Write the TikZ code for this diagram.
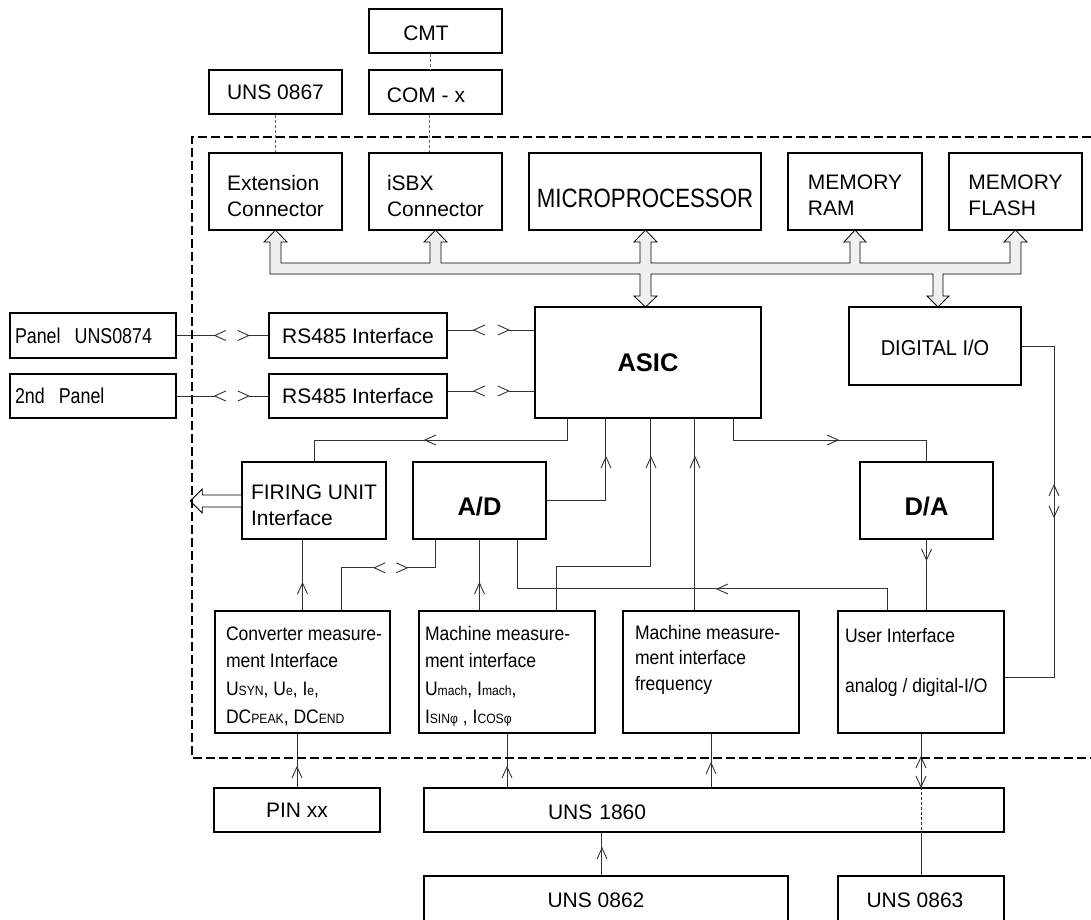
\documentclass[tikz,border=0pt]{standalone}
\usepackage{fontspec}
\setmainfont{Liberation Sans}
\newfontfamily\narrowm[FakeStretch=0.84]{Liberation Sans}
\newfontfamily\narrowp[FakeStretch=0.83]{Liberation Sans}
\newfontfamily\narrowd[FakeStretch=0.93]{Liberation Sans}
\newfontfamily\narrowb[FakeStretch=0.9]{Liberation Sans}
\usetikzlibrary{calc}
\newcommand\dropt[2]{\raisebox{-#1}[\height][\depth]{#2}}
\newcommand\tb[1]{\begin{tabular}{@{}l@{}}#1\end{tabular}}
\newcommand\sm[1]{{\fontsize{13.5}{13.5}\selectfont #1}}
\tikzset{
 box/.style={draw=black, line width=1.6pt, fill=white, inner sep=0pt, font=\fontsize{21}{26}\selectfont},
 conn/.style={draw=black!80, line width=0.9pt},
 dotc/.style={draw=black!60, line width=0.7pt, dash pattern=on 3pt off 2pt},
 chev/.pic={\draw[conn] (-11,5) -- (0,0) -- (-11,-5);},
 busfill/.style={draw=black, line width=0.8pt, fill=black!6},
 border/.style={draw=black, line width=2.8pt, dash pattern=on 9pt off 4pt},
}
\begin{document}
\begin{tikzpicture}[x=1pt,y=-1pt]
\useasboundingbox (0,0) rectangle (1091,919);
\clip (0,0) rectangle (1091,919);

% bus
\draw[busfill] (270,274) -- (270,242) -- (264,242) -- (275.5,230) -- (287,242) -- (281,242) -- (281,263)
 -- (430,263) -- (430,242) -- (424,242) -- (435.5,230) -- (447,242) -- (441,242) -- (441,263)
 -- (640,263) -- (640,242) -- (634,242) -- (645.5,230) -- (657,242) -- (651,242) -- (651,263)
 -- (850,263) -- (850,242) -- (844,242) -- (855,230) -- (866,242) -- (860,242) -- (860,263)
 -- (1010,263) -- (1010,242) -- (1004,242) -- (1015.5,230) -- (1027,242) -- (1021,242) -- (1021,274)
 -- (943,274) -- (943,296) -- (949,296) -- (938,307) -- (927,296) -- (933,296) -- (933,274)
 -- (651,274) -- (651,296) -- (657,296) -- (645.5,307) -- (634,296) -- (640,296) -- (640,274) -- cycle;

% top boxes
\node[box, minimum width=133, minimum height=44] (cmt) at (435.5,31) {\dropt{2pt}{\hspace*{-19pt}CMT}};
\node[box, minimum width=133, minimum height=44] (u0867) at (275.5,92) {UNS 0867};
\node[box, minimum width=133, minimum height=44] (com) at (435.5,92) {\dropt{3pt}{\hspace*{-19pt}COM - x}};
\node[box, minimum width=133, minimum height=77] (ext) at (275.5,191.5) {\dropt{6.5pt}{\tb{Extension\\Connector}}};
\node[box, minimum width=133, minimum height=77] (isbx) at (435.5,191.5) {\dropt{6.5pt}{\tb{iSBX\\Connector}}};
\node[box, minimum width=232, minimum height=77] (micro) at (645,191.5) {\dropt{6.5pt}{\narrowm\fontsize{26.5}{30}\selectfont MICROPROCESSOR}};
\node[box, minimum width=134, minimum height=77] (ram) at (855,191.5) {\dropt{6pt}{\tb{MEMORY\\RAM}}};
\node[box, minimum width=133, minimum height=77] (flash) at (1015.5,191.5) {\dropt{6pt}{\tb{MEMORY\\FLASH}}};

% middle
\node[box, minimum width=166, minimum height=45, text width=156pt, align=left] (pan1) at (93,335.5) {\narrowp\fontsize{21.5}{26}\selectfont Panel\ \ UNS0874};
\node[box, minimum width=166, minimum height=44, text width=156pt, align=left] (pan2) at (93,396) {\narrowp\fontsize{21.5}{26}\selectfont 2nd\ \ Panel};
\node[box, minimum width=178, minimum height=45] (rs1) at (358,335.5) {RS485 Interface};
\node[box, minimum width=178, minimum height=44] (rs2) at (358,396) {RS485 Interface};
\node[box, minimum width=226, minimum height=111] (asic) at (648,362.5) {\fontsize{25.5}{30}\selectfont\bfseries ASIC};
\node[box, minimum width=172, minimum height=78] (dio) at (935,346) {\dropt{2pt}{\narrowd\fontsize{21.5}{26}\selectfont DIGITAL I/O}};
\node[box, minimum width=144, minimum height=77] (firing) at (314,500.5) {\dropt{6.5pt}{\tb{FIRING UNIT\\Interface}}};
\node[box, minimum width=133, minimum height=77] (ad) at (479.5,500.5) {\dropt{6.5pt}{\fontsize{25.5}{30}\selectfont\bfseries A/D}};
\node[box, minimum width=133, minimum height=77] (da) at (926.5,500.5) {\dropt{6.5pt}{\fontsize{25.5}{30}\selectfont\bfseries D/A}};

% lower boxes
\node[box, minimum width=175, minimum height=122] (conv) at (302.5,672) {\parbox[c][122pt][t]{175pt}{\narrowb\fontsize{19.5}{27.7}\selectfont\leftskip=11pt \rule{0pt}{29pt}Converter measure-\\ment Interface\\U\sm{SYN}, U\sm{e}, I\sm{e},\\DC\sm{PEAK}, DC\sm{END}}};
\node[box, minimum width=176, minimum height=122] (mach) at (507,672) {\parbox[c][122pt][t]{176pt}{\narrowb\fontsize{19.5}{27.7}\selectfont\leftskip=6pt \rule{0pt}{29pt}Machine measure-\\ment interface\\U\sm{mach}, I\sm{mach},\\I\sm{SINφ} , I\sm{COSφ}}};
\node[box, minimum width=176, minimum height=122] (freq) at (711,672) {\parbox[c][122pt][t]{176pt}{\narrowb\fontsize{19.5}{25.5}\selectfont\leftskip=12pt \rule{0pt}{28pt}Machine measure-\\ment interface\\frequency}};
\node[box, minimum width=166, minimum height=122] (ui) at (921,672) {\parbox[c][122pt][t]{166pt}{\narrowb\fontsize{19.5}{25}\selectfont\leftskip=7pt \rule{0pt}{31pt}User Interface\\[25pt]analog / digital-I/O}};

% bottom boxes
\node[box, minimum width=166, minimum height=44] (pin) at (297,810) {PIN xx};
\node[box, minimum width=580, minimum height=44, text width=580pt, align=left] (u1860) at (714,810) {\dropt{2pt}{\hspace*{124pt}UNS 1860}};
\node[box, minimum width=364, minimum height=48] (u0862) at (606,900) {\hspace*{-20pt}UNS 0862};
\node[box, minimum width=166, minimum height=48] (u0863) at (921,900) {\hspace*{-12pt}UNS 0863};

% dotted links at top
\draw[dotc] ($(cmt.south)+(-5.5,0)$) -- ($(com.north)+(-5.5,0)$);
\draw[dotc] ($(com.south)+(-6.5,0)$) -- ($(isbx.north)+(-6.5,0)$);
\draw[dotc] (u0867.south) -- (ext.north);

% panels <-> RS485
\draw[conn] (pan1.east) -- ++(38,0) pic[rotate=180]{chev} ++(34,0) pic{chev} -- (rs1.west);
\draw[conn] (pan2.east) -- ++(38,0) pic[rotate=180]{chev} ++(34,0) pic{chev} -- (rs2.west);
% RS485 <-> ASIC
\draw[conn] ($(rs1.east)+(0,-5.5)$) coordinate (r1a) -- ++(26,0) pic[rotate=180]{chev} ++(35,0) pic{chev} -- (r1a -| asic.west);
\draw[conn] ($(rs2.east)+(0,-5)$) coordinate (r2a) -- ++(26,0) pic[rotate=180]{chev} ++(35,0) pic{chev} -- (r2a -| asic.west);

% ASIC -> FIRING
\draw[conn] ($(asic.south west)+(33,0)$) -- ++(0,22) -| (firing.north);
\pic[rotate=180] at (425,440) {chev};
% A/D -> ASIC
\draw[conn] (ad.east) -| ($(asic.south west)+(71,0)$);
\pic[rotate=90] at (606,457) {chev};
% Machine -> ASIC
\draw[conn] ($(mach.north west)+(138,0)$) -- ++(0,-44) -| ($(asic.south west)+(116,0)$);
\pic[rotate=90] at (651,457) {chev};
% Frequency -> ASIC
\draw[conn] ($(freq.north west)+(72,0)$) -- ($(asic.south west)+(160,0)$);
\pic[rotate=90] at (695,457) {chev};
% ASIC -> D/A
\draw[conn] ($(asic.south west)+(199,0)$) -- ++(0,22) -| (da.north);
\pic at (838,440) {chev};
% D/A -> User interface
\draw[conn] (da.south) -- (da.south |- ui.north);
\pic[rotate=-90] at (926.5,560) {chev};
% User interface -> A/D
\draw[conn] ($(ad.south west)+(105,0)$) |- ($(ui.north west)+(50,-22)$) -- ($(ui.north west)+(50,0)$);
\pic[rotate=180] at (717,589) {chev};
% A/D <-> Converter
\draw[conn] ($(ad.south west)+(23,0)$) -- ++(0,28) -- ++(-28,0) pic{chev} ++(-33,0) pic[rotate=180]{chev} -| ($(conv.north west)+(127,0)$);
% Converter -> FIRING
\draw[conn] (conv.north) -- (conv.north |- firing.south);
\pic[rotate=90] at (302.5,583) {chev};
% Machine -> A/D
\draw[conn] (ad.south) -- (ad.south |- mach.north);
\pic[rotate=90] at (479.5,583) {chev};
% DIGITAL I/O <-> User interface
\draw[conn] (dio.east) -- ++(33,0) |- ($(ui.east)+(0,5)$);
\pic[rotate=90] at (1054,485) {chev};
\pic[rotate=-90] at (1054,517) {chev};

% bottom links
\draw[conn] (pin.north) -- (pin.north |- conv.south);
\pic[rotate=90] at (297,767) {chev};
\draw[conn] (mach.south) -- (mach.south |- u1860.north);
\pic[rotate=90] at (507,767) {chev};
\draw[conn] (freq.south) -- (freq.south |- u1860.north);
\pic[rotate=90] at (711,763) {chev};
\draw[conn] (ui.south) -- (ui.south |- u1860.north);
\pic[rotate=90] at (921,757) {chev};
\pic[rotate=-90] at (921,787) {chev};
\draw[dotc, draw=black!85] (u1860.north -| ui.south) -- (u1860.south -| ui.south);
\draw[conn] (u0863.north) -- (u0863.north |- u1860.south);
\draw[conn] ($(u0862.north west)+(178,0)$) -- ($(u1860.south west)+(178,0)$);
\pic[rotate=90] at (602,848) {chev};

% hollow output arrow of the firing unit
\draw[line width=0.8pt, fill=white] ($(firing.west)+(0,-5.5)$) -- ++(-39,0) -- ++(0,-6) -- ++(-12,12) -- ++(12,12) -- ++(0,-6) -- ++(39,0);

% dashed board outline
\draw[border] (1091,137) -- (192,137) -- (192,758) -- (1091,758);
\end{tikzpicture}
\end{document}
